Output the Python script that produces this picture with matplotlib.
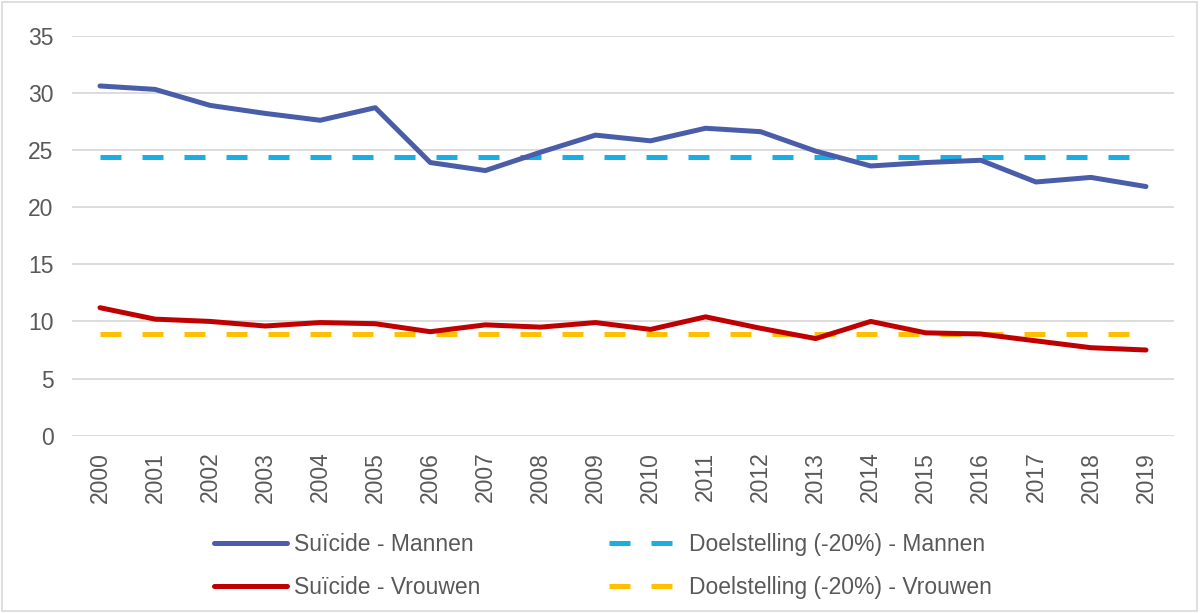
import matplotlib
matplotlib.use("Agg")
import matplotlib.pyplot as plt

years = list(range(2000, 2020))
men = [30.6, 30.3, 28.9, 28.2, 27.6, 28.7, 23.9, 23.2, 24.8, 26.3,
       25.8, 26.9, 26.6, 24.9, 23.6, 23.9, 24.1, 22.2, 22.6, 21.8]
women = [11.2, 10.2, 10.0, 9.6, 9.9, 9.8, 9.1, 9.7, 9.5, 9.9,
         9.3, 10.4, 9.4, 8.5, 10.0, 9.0, 8.9, 8.3, 7.7, 7.5]
target_men = [24.4] * len(years)
target_women = [8.9] * len(years)
labels = ["Suïcide - Mannen", "Suïcide - Vrouwen",
          "Doelstelling (-20%) - Mannen", "Doelstelling (-20%) - Vrouwen"]

plt.rcParams["font.family"] = ["Liberation Sans", "DejaVu Sans"]
text_color = "#595959"

fig = plt.figure(figsize=(12.02, 6.13), dpi=100)
ax = fig.add_axes([0.0603, 0.2892, 0.916, 0.6526])

x = list(range(len(years)))
lw = 3.6
dash = (0, (4.2, 4.2))
l1, = ax.plot(x, men, color="#4A5DA8", lw=lw, solid_capstyle="round", zorder=4)
l2, = ax.plot(x, women, color="#C00000", lw=lw, solid_capstyle="round", zorder=4)
l3, = ax.plot(x, target_men, color="#1AAEE3", lw=lw, linestyle=dash, zorder=3)
l4, = ax.plot(x, target_women, color="#FFC000", lw=lw, linestyle=dash, zorder=3)

ax.set_xlim(-0.5, len(years) - 0.5)
ax.set_ylim(0, 35)
ax.set_yticks(range(0, 36, 5))
ax.set_xticks(x)
ax.set_xticklabels([str(y) for y in years], rotation=90)
ax.grid(axis="y", color="#D9D9D9", lw=1.3)
ax.set_axisbelow(True)
for s in ax.spines.values():
    s.set_visible(False)
ax.tick_params(axis="both", length=0, labelsize=16.5, colors=text_color)
ax.tick_params(axis="y", pad=13.5)
ax.tick_params(axis="x", pad=11.5)

fig.legend([l1, l2, l3, l4], labels, ncol=2, frameon=False,
           loc="upper left", bbox_to_anchor=(214 / 1202, 1 - 533 / 613),
           fontsize=16.5, labelcolor=text_color, handlelength=3.2,
           handletextpad=0.3, columnspacing=5.6, labelspacing=0.88,
           borderpad=0, borderaxespad=0)

# light frame around the whole picture
fig.patches.append(plt.Rectangle((0.002, 0.003), 0.994, 0.994, transform=fig.transFigure,
                                 fill=False, edgecolor="#D9D9D9", lw=1.2))

fig.savefig("out.png", dpi=100)
